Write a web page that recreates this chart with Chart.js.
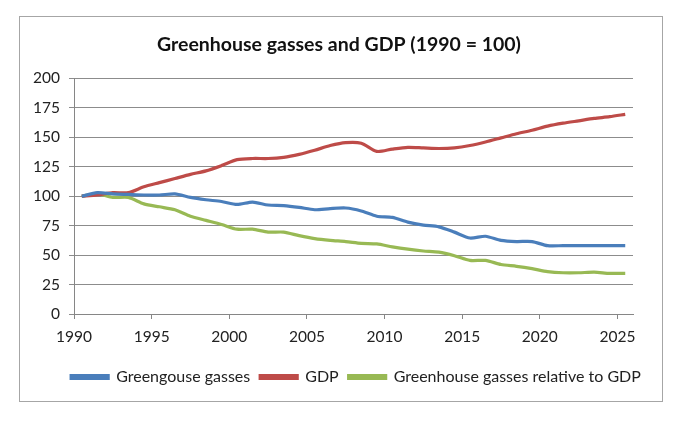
<!DOCTYPE html>
<html>
<head>
<meta charset="utf-8">
<script src="https://cdn.jsdelivr.net/npm/chart.js@4"></script>
<style>
  html, body { margin: 0; padding: 0; background: #fff; }
  #wrap { position: relative; width: 690px; height: 424px; }
  #frame { position: absolute; left: 19px; top: 16px; width: 642px; height: 384px; border: 1px solid #a6a6a6; pointer-events: none; }
  canvas { position: absolute; left: 0; top: 0; }
</style>
</head>
<body>
<div id="wrap">
  <canvas id="c" width="690" height="424"></canvas>
  <div id="frame"></div>
</div>
<script>
const years = [1990,1991,1992,1993,1994,1995,1996,1997,1998,1999,2000,2001,2002,2003,2004,2005,2006,2007,2008,2009,2010,2011,2012,2013,2014,2015,2016,2017,2018,2019,2020,2021,2022,2023,2024,2025];
const ghg = [100,103,102,101.5,101,101,102,99,97,95.5,93,95,92.5,92,90.5,88.5,89.5,90,87.5,83,82,78,75.5,74,69.5,64.5,66,62.5,61.5,61.5,58,58,58,58,58,58];
const gdp = [100,101,103,103,108,111.5,115,118.5,121.5,126,131,132,132,133,135.5,139,143,145.5,145,138,140,141.5,141,140.5,141,143,146,149.5,153,156,159.5,162,164,166,167.5,169.5];
const ghgRel = [100,102,99,99,93.5,91,88.5,83,79.5,76,72,72,69.5,69.5,66.5,64,62.5,61.5,60,59.5,57,55,53.5,52.5,49.5,45.5,45.5,42,40.5,38.5,36,35,35,35.5,34.5,34.5];
const seriesNames = ['Greengouse gasses', 'GDP', 'Greenhouse gasses relative to GDP'];
const seriesColors = ['#4a7ebb', '#be4b48', '#98b954'];
const yTicks = [0,25,50,75,100,125,150,175,200];
const xTickYears = [1990,1995,2000,2005,2010,2015,2020,2025];

const FONT = 'Lato, "Open Sans", sans-serif';
// values are annual; plotted at mid-year on a date-like axis
const toPoints = arr => arr.map((v, i) => ({ x: years[i] + 0.5, y: v }));

const datasets = [ghg, gdp, ghgRel].map((arr, i) => ({
  label: seriesNames[i],
  data: toPoints(arr),
  borderColor: seriesColors[i],
  backgroundColor: seriesColors[i],
  borderWidth: 3.2,
  pointRadius: 0,
  tension: 0.25,
  fill: false
}));

// center title and legend within the whole framed chart (not only the plot column)
const centerBlocks = {
  id: 'centerBlocks',
  afterLayout(chart) {
    const lg = chart.legend;
    if (lg) { lg.left = 22; lg.right = 690; }
    const tb = chart.titleBlock;
    if (tb) { tb.left = 0; tb.right = 678; }
  }
};

new Chart(document.getElementById('c'), {
  type: 'line',
  data: { datasets },
  plugins: [centerBlocks],
  options: {
    responsive: false,
    animation: false,
    devicePixelRatio: 1,
    layout: { padding: { top: 16, left: 0, right: 57, bottom: 29 } },
    plugins: {
      title: {
        display: true,
        text: 'Greenhouse gasses and GDP (1990 = 100)',
        color: '#111',
        font: { family: FONT, size: 19.5, weight: 'bold' },
        padding: { top: 17, bottom: 22 }
      },
      legend: {
        position: 'bottom',
        labels: {
          color: '#222',
          font: { family: FONT, size: 16 },
          boxWidth: 37,
          boxHeight: 3,
          padding: 10
        }
      },
      tooltip: { enabled: false }
    },
    scales: {
      x: {
        type: 'linear',
        min: xTickYears[0],
        max: 2026,
        afterBuildTicks: s => { s.ticks = xTickYears.map(v => ({ value: v })); },
        ticks: {
          color: '#222',
          font: { family: FONT, size: 15.5 },
          padding: 9,
          maxRotation: 0,
          callback: v => String(v)
        },
        grid: { drawOnChartArea: false, drawTicks: true, tickLength: 5, color: '#868686' },
        border: { color: '#868686', width: 1 },
        afterFit: s => { s.height = 45; }
      },
      y: {
        min: 0,
        max: 200,
        afterBuildTicks: s => { s.ticks = yTicks.map(v => ({ value: v })); },
        ticks: {
          color: '#222',
          font: { family: FONT, size: 15.5 },
          padding: 9
        },
        grid: { color: '#8c8c8c', tickLength: 5, lineWidth: 1 },
        border: { color: '#868686', width: 1 },
        afterFit: s => { s.width = 74; }
      }
    }
  }
});
</script>
</body>
</html>
